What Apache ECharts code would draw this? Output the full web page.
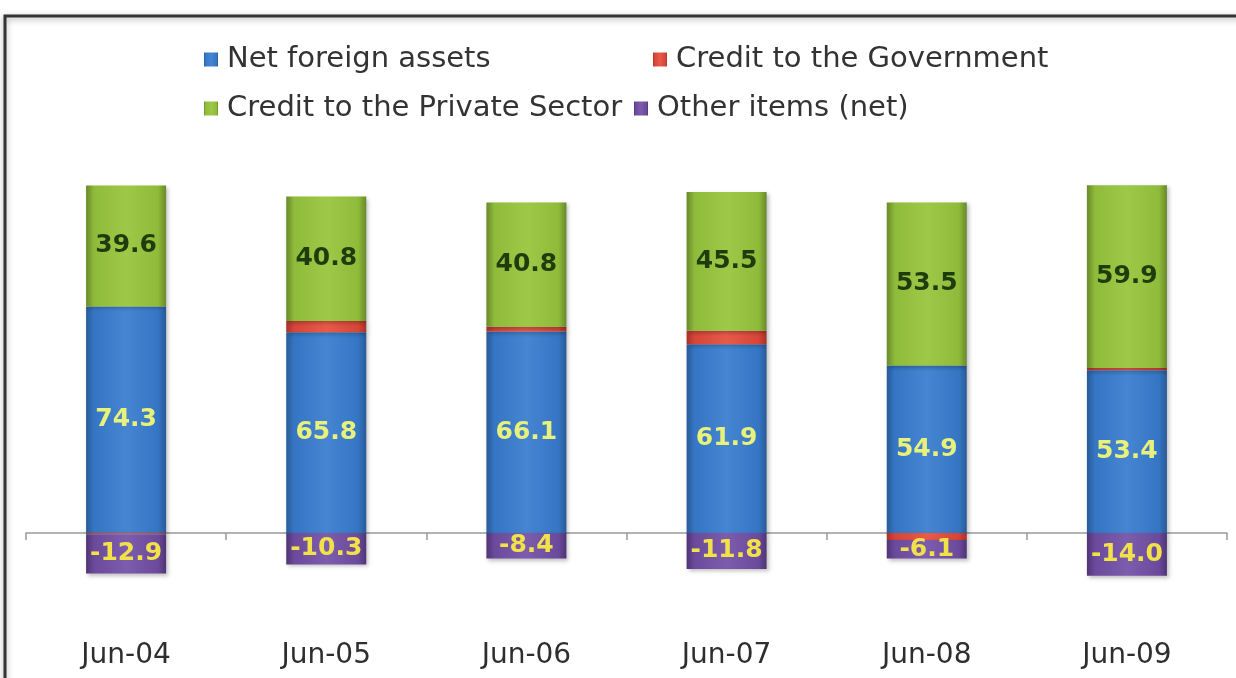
<!DOCTYPE html>
<html>
<head>
<meta charset="utf-8">
<script src="https://cdn.jsdelivr.net/npm/echarts@6/dist/echarts.min.js"></script>
<style>
  html, body { margin: 0; padding: 0; background: #ffffff; }
  #chart { width: 1236px; height: 678px; }
</style>
</head>
<body>
<div id="chart"></div>
<script>
// Sources of broad money, share of total (%)
const categories = ['Jun-04', 'Jun-05', 'Jun-06', 'Jun-07', 'Jun-08', 'Jun-09'];
const netForeignAssets = [74.3, 65.8, 66.1, 61.9, 54.9, 53.4];
const creditGovernment = [-0.4, 3.7, 1.5, 4.4, -2.3, 0.7];
const creditPrivate = [39.6, 40.8, 40.8, 45.5, 53.5, 59.9];
const otherItems = [-12.9, -10.3, -8.4, -11.8, -6.1, -14.0];

const FONT = 'DejaVu Sans';

// Horizontal shading: darker edges, brighter middle (bevelled column look)
function columnFill(edge, main, mid) {
  return new echarts.graphic.LinearGradient(0, 0, 1, 0, [
    { offset: 0, color: edge },
    { offset: 0.1, color: main },
    { offset: 0.5, color: mid },
    { offset: 0.9, color: main },
    { offset: 1, color: edge }
  ]);
}

const shadow = {
  shadowColor: 'rgba(0,0,0,0.25)',
  shadowBlur: 4,
  shadowOffsetX: 2,
  shadowOffsetY: 2
};

function segmentLabel(color) {
  return {
    show: true,
    position: 'inside',
    color: color,
    fontFamily: FONT,
    fontWeight: 'bold',
    fontSize: 25,
    formatter: p => p.value.toFixed(1)
  };
}

const chart = echarts.init(document.getElementById('chart'));

const legendBase = {
  selectedMode: false,
  orient: 'horizontal',
  itemWidth: 14,
  itemHeight: 14,
  icon: 'rect',
  textStyle: { fontFamily: FONT, fontSize: 29, color: '#333333', padding: [0, 0, 0, 4] }
};

chart.setOption({
  backgroundColor: '#ffffff',
  animation: false,
  graphic: [{
    type: 'rect',
    shape: { x: 5, y: 16, width: 1400, height: 900 },
    style: { fill: 'none', stroke: '#333333', lineWidth: 3,
             shadowColor: 'rgba(0,0,0,0.35)', shadowBlur: 6, shadowOffsetY: 2 },
    silent: true
  }],
  legend: [
    Object.assign({ data: ['Net foreign assets'], left: 199, top: 40 }, legendBase),
    Object.assign({ data: ['Credit to the Government'], left: 648, top: 40 }, legendBase),
    Object.assign({ data: ['Credit to the Private Sector'], left: 199, top: 89 }, legendBase),
    Object.assign({ data: ['Other items (net)'], left: 629, top: 89 }, legendBase)
  ],
  grid: { left: 26, right: 9, top: 167, bottom: 84 },
  xAxis: [{
    type: 'category',
    data: categories,
    axisLine: { onZero: true, lineStyle: { color: '#9a9a9a', width: 1.5 } },
    axisTick: { show: true, length: 7, lineStyle: { color: '#9a9a9a', width: 1.5 } },
    axisLabel: { show: false }
  }, {
    type: 'category',
    data: categories,
    position: 'bottom',
    axisLine: { show: false, onZero: false },
    axisTick: { show: false },
    axisLabel: { show: true, margin: 48, fontFamily: FONT, fontSize: 28, color: '#2e2e2e' }
  }],
  yAxis: {
    type: 'value',
    min: -20,
    max: 120,
    show: false,
    splitLine: { show: false }
  },
  series: [{
    name: 'Net foreign assets',
    type: 'bar',
    stack: 'total',
    xAxisIndex: 0,
    barWidth: 80,
    data: netForeignAssets,
    itemStyle: Object.assign({ color: columnFill('#285a98', '#3576c4', '#4585d2') }, shadow),
    label: segmentLabel('#e8f27a')
  }, {
    name: 'Credit to the Government',
    type: 'bar',
    stack: 'total',
    xAxisIndex: 0,
    barWidth: 80,
    data: creditGovernment,
    itemStyle: Object.assign({ color: columnFill('#a8302a', '#d64538', '#e85a4a') }, shadow),
    label: { show: false }
  }, {
    name: 'Credit to the Private Sector',
    type: 'bar',
    stack: 'total',
    xAxisIndex: 0,
    barWidth: 80,
    data: creditPrivate,
    itemStyle: Object.assign({ color: columnFill('#68892a', '#8fbb3a', '#9ec948') }, shadow),
    label: segmentLabel('#1e3d0c')
  }, {
    name: 'Other items (net)',
    type: 'bar',
    stack: 'total',
    xAxisIndex: 0,
    barWidth: 80,
    data: otherItems,
    itemStyle: Object.assign({ color: columnFill('#4f3475', '#6b4a9c', '#7c5cad') }, shadow),
    label: segmentLabel('#f2e24a')
  }]
});
</script>
</body>
</html>
